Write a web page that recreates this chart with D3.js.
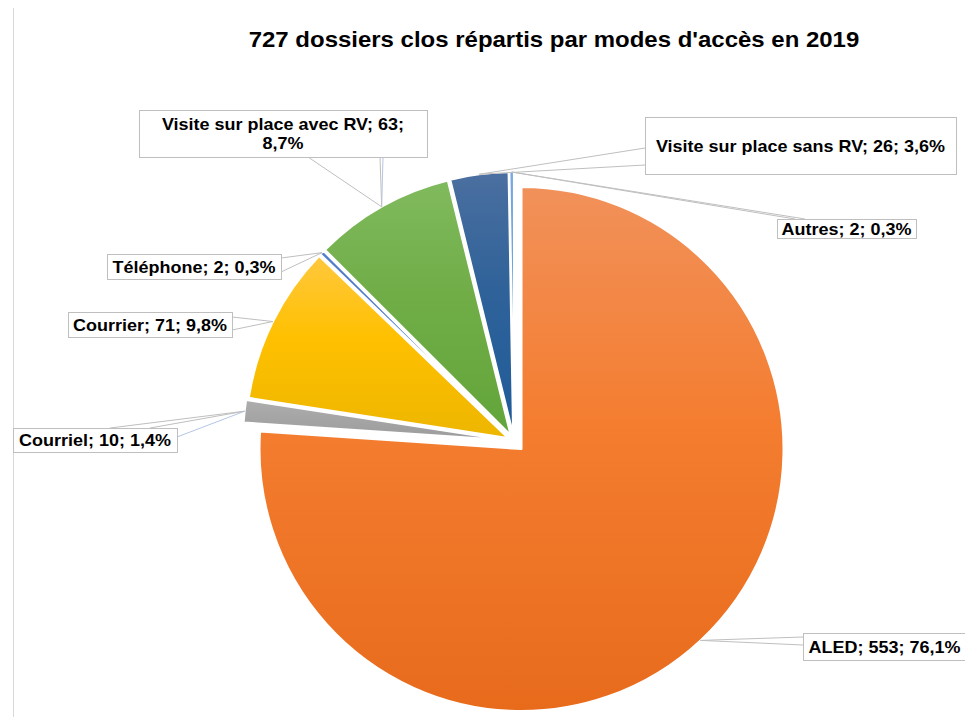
<!DOCTYPE html>
<html>
<head>
<meta charset="utf-8">
<script src="https://cdn.jsdelivr.net/npm/d3@7"></script>
<style>
  body { margin: 0; background: #fff; }
  text { font-family: 'Liberation Sans', Arial, sans-serif; font-weight: bold; fill: #000; }
</style>
</head>
<body>
<div id="chart-container"></div>
<script>
const categories = ['ALED', 'Courriel', 'Courrier', 'Téléphone', 'Visite sur place avec RV', 'Visite sur place sans RV', 'Autres']
const counts = [553, 10, 71, 2, 63, 26, 2]
const title = "727 dossiers clos répartis par modes d'accès en 2019"

// top / middle / bottom of each slice's vertical gradient
const colors = [
  ['#F1915A', '#F47D30', '#E86B1C'],
  ['#ADADAD', '#A5A5A5', '#9C9C9C'],
  ['#FFC83E', '#FFC000', '#EDB600'],
  ['#5580CC', '#4472C4', '#3B66B5'],
  ['#80BA5E', '#70AD47', '#63A53A'],
  ['#4B6FA0', '#2F6299', '#1F5C99'],
  ['#7AAAE0', '#5B9BD5', '#4D8CC8']
]

const chartWidth = 965
const chartHeight = 717
const center = { x: 514, y: 441 }
const radius = 262
const explode = [11, 9, 7, 7, 7, 7, 7]
const stretch = 1.09

// label callouts: box, wedge base points on box edge, optional leader line end
const callouts = [
  { box: [803, 633, 163, 27], base: [[803, 637], [803, 645]] },
  { box: [13, 428, 164, 24], base: [[110, 428], [150, 428]], leader: [177, 437] },
  { box: [68, 312, 164, 25], base: [[232, 317], [232, 330]] },
  { box: [107, 254, 174, 25], base: [[281, 258], [281, 272]], leader: [281, 266] },
  { box: [139, 110, 288, 47], base: [[308, 157], [380, 157]], leader: [383, 157], lines: 2 },
  { box: [645, 117, 311, 57], base: [[645, 148], [645, 165]] },
  { box: [777, 219, 139, 19], base: [[795, 219], [805, 219]] }
]

const data = categories.map((name, i) => ({ name, count: counts[i] }))
const total = d3.sum(counts)
const pctFormat = v => (v / total * 100).toFixed(1).replace('.', ',') + '%'

const svg = d3
  .select('#chart-container')
  .append('svg')
  .attr('width', chartWidth)
  .attr('height', chartHeight)

const defs = svg.append('defs')
colors.forEach((stops, i) => {
  const grad = defs
    .append('linearGradient')
    .attr('id', `grad-${i}`)
    .attr('x1', 0).attr('y1', 0).attr('x2', 0).attr('y2', 1)
  grad.append('stop').attr('offset', '0%').attr('stop-color', stops[0])
  grad.append('stop').attr('offset', '45%').attr('stop-color', stops[1])
  grad.append('stop').attr('offset', '100%').attr('stop-color', stops[2])
})

const pie = d3.pie().sort(null).value(d => d.count)
const arcs = pie(data)
const arc = d3.arc().innerRadius(0).outerRadius(radius)
const edgeArc = d3.arc().innerRadius(radius).outerRadius(radius)

const sliceOffset = (d, i) => {
  const mid = (d.startAngle + d.endAngle) / 2
  return [center.x + explode[i] * Math.sin(mid), center.y - explode[i] * Math.cos(mid)]
}

const drawFrame = () => {
  svg
    .append('line')
    .attr('x1', 13.5).attr('x2', 13.5)
    .attr('y1', 8).attr('y2', chartHeight)
    .attr('stroke', '#D9D9D9')
    .attr('stroke-width', 1)

  svg
    .append('text')
    .attr('transform', `translate(554,47) scale(${stretch},1)`)
    .attr('text-anchor', 'middle')
    .style('font-size', '22px')
    .text(title)
}

const drawPie = () => {
  svg
    .append('g')
    .selectAll('path')
    .data(arcs)
    .enter()
    .append('path')
    .attr('transform', (d, i) => `translate(${sliceOffset(d, i)})`)
    .attr('d', arc)
    .attr('fill', (d, i) => `url(#grad-${i})`)
    .attr('stroke', '#fff')
    .attr('stroke-width', 2)
    .attr('stroke-linejoin', 'round')
}

const drawLabels = () => {
  const g = svg.append('g')
  arcs.forEach((d, i) => {
    const c = callouts[i]
    const [ox, oy] = sliceOffset(d, i)
    const [tx, ty] = edgeArc.centroid(d)
    const tip = [ox + tx, oy + ty]
    const [bx, by, bw, bh] = c.box

    if (c.leader) {
      g.append('line')
        .attr('x1', tip[0]).attr('y1', tip[1])
        .attr('x2', c.leader[0]).attr('y2', c.leader[1])
        .attr('stroke', '#B4C6E7')
        .attr('stroke-width', 1)
    }

    g.append('path')
      .attr('d', d3.line()([c.base[0], tip, c.base[1]]))
      .attr('fill', '#fff')
      .attr('stroke', '#BFBFBF')
      .attr('stroke-width', 1)

    g.append('rect')
      .attr('x', bx + 0.5).attr('y', by + 0.5)
      .attr('width', bw).attr('height', bh)
      .attr('fill', '#fff')
      .attr('stroke', '#BFBFBF')
      .attr('stroke-width', 1)

    const full = `${d.data.name}; ${d.data.count}; ${pctFormat(d.data.count)}`
    const lines = c.lines === 2
      ? [`${d.data.name}; ${d.data.count};`, pctFormat(d.data.count)]
      : [full]
    const lineHeight = 19
    const cx = bx + bw / 2
    const firstBase = by + bh / 2 - ((lines.length - 1) * lineHeight) / 2 + 6
    lines.forEach((line, j) => {
      g.append('text')
        .attr('transform', `translate(${cx},${firstBase + j * lineHeight}) scale(${stretch},1)`)
        .attr('text-anchor', 'middle')
        .style('font-size', '16.5px')
        .text(line)
    })
  })
}

drawFrame()
drawPie()
drawLabels()
</script>
</body>
</html>
